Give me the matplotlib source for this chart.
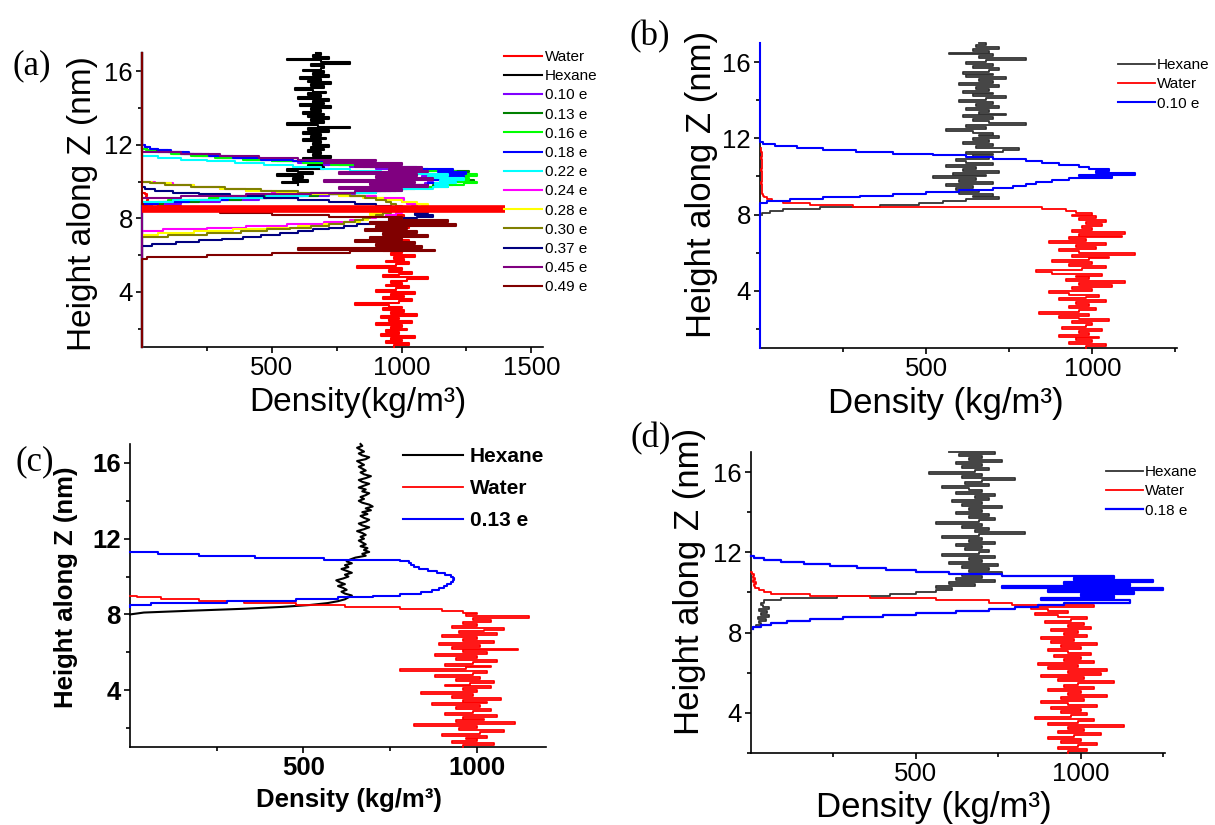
import numpy as np
import matplotlib
matplotlib.use("Agg")
import matplotlib.pyplot as plt

plt.rcParams['font.family'] = ['Liberation Sans', 'DejaVu Sans']

W, H = 1215, 825
fig = plt.figure(figsize=(W / 100, H / 100), dpi=100)


def fx(px):
    return px / W


def fy(py):
    return 1 - py / H


def rect(l, t, r, b):
    return [l / W, 1 - b / H, (r - l) / W, (b - t) / H]


# ---------------- data ----------------
# height bins (nm) of the density profiles
Z = np.round(np.arange(1.0, 17.0 + 1e-9, 0.1), 1)

# ---- panel (a) ----
a_labels = ['Water', 'Hexane', '0.10 e', '0.13 e', '0.16 e', '0.18 e', '0.22 e',
            '0.24 e', '0.28 e', '0.30 e', '0.37 e', '0.45 e', '0.49 e']
a_colors = ['#ff0000', '#000000', '#8000ff', '#008000', '#00ff00', '#0000ff', '#00ffff',
            '#ff00ff', '#ffff00', '#808000', '#000080', '#800080', '#800000']

water_a_start = 1.0
water_a = [970, 1030, 940, 1000, 960, 1050, 920, 990, 940, 1020,
           960, 1000, 900, 1040, 950, 990, 920, 1060, 960, 1010,
           930, 1000, 950, 820, 990, 1040, 930, 1010, 960, 1050,
           900, 980, 1030, 940, 1000, 960, 1020, 1100, 930, 990,
           1040, 950, 1000, 830, 980, 1030, 940, 1010, 970, 1050,
           960, 1000, 930, 1020, 950, 990, 940, 1030, 960, 1000,
           940, 1020, 970, 1000, 950, 1030, 980, 1010, 960, 1000,
           980, 1010, 950, 900, 700, 400, 150, 60, 30, 20,
           25, 15, 20, 10, 0]
hexane_a_start = 9.8
hexane_a = [600, 540, 640, 580, 620, 520, 660, 600, 560, 700,
            640, 720, 660, 700, 620, 730, 660, 690, 640, 700,
            650, 720, 660, 690, 620, 710, 650, 690, 620, 720,
            640, 800, 680, 560, 700, 650, 720, 640, 700, 620,
            690, 650, 730, 610, 700, 660, 720, 600, 690, 640,
            710, 660, 590, 700, 650, 730, 640, 690, 610, 720,
            660, 700, 620, 690, 700, 650, 800, 690, 560, 720,
            660, 690, 670]
ion_starts = [8.6, 8.7, 8.8, 8.7, 8.8, 7.2, 7.0, 6.9, 6.4, 9.0, 5.7]
ion_010 = [0, 40, 150, 300, 450, 600, 720, 820, 900, 960,
           1010, 1050, 1090, 1120, 1100, 1150, 1080, 1130, 1060, 1090,
           980, 900, 800, 700, 600, 500, 400, 310, 230, 160,
           100, 60, 30, 10, 0]
ion_013 = [0, 80, 220, 380, 540, 680, 800, 900, 980, 1050,
           1120, 1200, 1160, 1280, 1180, 1250, 1150, 1220, 1260, 1100,
           1000, 880, 760, 640, 520, 400, 290, 200, 120, 60,
           20, 0]
ion_016 = [0, 100, 260, 420, 580, 720, 840, 940, 1020, 1180,
           1240, 1290, 1200, 1260, 1170, 1290, 1150, 1210, 1080, 960,
           850, 730, 620, 500, 390, 280, 190, 110, 50, 15,
           0]
ion_018 = [0, 60, 180, 330, 480, 620, 740, 840, 920, 990,
           1050, 1100, 1150, 1210, 1120, 1240, 1160, 1250, 1140, 1200,
           1060, 940, 820, 700, 580, 460, 350, 260, 180, 110,
           60, 30, 10, 0]
ion_022 = [0, 120, 300, 480, 640, 780, 900, 1000, 1120, 1180,
           1130, 1210, 1150, 1240, 1100, 1180, 1050, 920, 800, 690,
           580, 470, 360, 250, 150, 60, 0]
ion_024 = [0, 80, 250, 400, 560, 700, 800, 860, 900, 940,
           980, 1000, 1020, 1050, 1040, 1060, 1020, 1000, 1010, 900,
           760, 620, 500, 400, 300, 200, 120, 50, 0]
ion_028 = [0, 60, 200, 350, 480, 600, 700, 780, 840, 870,
           850, 900, 880, 950, 1000, 1050, 1080, 1100, 1060, 1000,
           930, 850, 760, 640, 520, 400, 300, 200, 110, 40,
           0]
ion_030 = [0, 100, 250, 380, 480, 570, 650, 720, 780, 820,
           850, 880, 900, 930, 960, 990, 1010, 1000, 980, 960,
           940, 900, 860, 800, 720, 600, 460, 320, 190, 90,
           30, 0]
ion_037 = [0, 40, 130, 220, 310, 390, 460, 530, 600, 660,
           720, 780, 830, 880, 950, 1010, 1060, 1120, 1050, 1100,
           1040, 1000, 960, 900, 820, 720, 600, 470, 340, 220,
           120, 50, 10, 0]
ion_045 = [0, 150, 400, 650, 820, 1000, 760, 1100, 880, 1050,
           700, 1120, 900, 1060, 760, 1100, 950, 1080, 820, 1000,
           700, 900, 600, 450, 300, 150, 0]
ion_049 = [0, 20, 250, 500, 800, 1130, 600, 1080, 900, 1050,
           820, 1000, 880, 1100, 930, 1060, 860, 1020, 900, 1210,
           880, 1180, 950, 1000, 720, 500, 300, 150, 60, 20,
           5, 0]
ions_a = [ion_010, ion_013, ion_016, ion_018, ion_022, ion_024,
          ion_028, ion_030, ion_037, ion_045, ion_049]
# thick red bar at the interface
bar_density = [0, 1400]
bar_height = [8.5, 8.5]

# ---- panel (b) ----
water_b_start = 1.0
water_b = [980, 1040, 930, 1000, 950, 1020, 900, 990, 960, 1030,
           910, 980, 1000, 940, 1050, 960, 900, 990, 840, 960,
           1010, 930, 990, 950, 1040, 900, 980, 1020, 930, 870,
           1000, 940, 1060, 960, 1100, 920, 990, 950, 1030, 880,
           830, 970, 1040, 930, 1000, 880, 990, 1050, 940, 1130,
           960, 900, 1010, 950, 1040, 870, 980, 930, 1090, 960,
           1100, 940, 1000, 970, 1030, 980, 1040, 960, 1010, 940,
           1000, 950, 920, 850, 280, 150, 70, 35, 20, 12,
           8, 6, 5, 7, 5, 6, 4, 6, 5, 7,
           5, 6, 5, 4, 6, 5, 7, 5, 6, 4,
           5, 6, 5, 4, 3, 2]
hexane_b_start = 8.0
hexane_b = [5, 30, 70, 180, 360, 480, 550, 620, 720, 640,
            700, 600, 660, 590, 640, 560, 700, 600, 650, 520,
            680, 580, 720, 610, 650, 560, 700, 620, 590, 690,
            640, 700, 620, 730, 780, 650, 700, 610, 690, 640,
            720, 660, 700, 640, 560, 680, 620, 800, 690, 640,
            700, 610, 740, 660, 690, 620, 720, 650, 700, 600,
            680, 740, 640, 700, 610, 690, 650, 720, 600, 700,
            660, 740, 620, 700, 610, 690, 720, 640, 700, 620,
            680, 800, 660, 700, 570, 690, 640, 720, 650, 680,
            660]
ion_b_start = 8.6
ion_b = [20, 90, 190, 300, 400, 500, 600, 700, 760, 800,
         830, 880, 930, 1060, 960, 1130, 1010, 1050, 990, 960,
         900, 850, 800, 700, 620, 520, 400, 290, 190, 110,
         45, 10]

# ---- panel (c) ----
hexane_c_start = 8.0
hexane_c = [0, 40, 180, 330, 440, 520, 570, 600, 620, 630,
            640, 620, 610, 625, 615, 600, 620, 605, 595, 615,
            630, 620, 640, 625, 610, 630, 620, 640, 625, 635,
            650, 680, 670, 690, 675, 685, 665, 680, 670, 660,
            675, 665, 680, 670, 655, 675, 690, 670, 660, 680,
            690, 675, 665, 685, 670, 695, 680, 700, 690, 670,
            660, 675, 665, 680, 690, 670, 680, 660, 675, 690,
            670, 660, 680, 695, 675, 665, 680, 670, 660, 675,
            665, 655, 680, 690, 670, 660, 675, 665, 655, 670,
            665]
water_c_start = 1.0
water_c = [960, 1050, 930, 1000, 970, 1030, 900, 1010, 1080, 950,
           1000, 820, 1110, 940, 1020, 960, 1060, 910, 990, 1040,
           940, 1010, 870, 1030, 960, 1070, 930, 990, 840, 1000,
           960, 1040, 910, 980, 1050, 940, 1010, 880, 990, 1030,
           780, 970, 1040, 910, 990, 1060, 940, 1000, 880, 1030,
           960, 1120, 930, 1010, 890, 1050, 960, 1000, 900, 1060,
           950, 1020, 1080, 930, 1000, 960, 1040, 990, 1150, 970,
           1000, 960, 900, 780, 620, 480, 330, 200, 90, 20,
           0]
ion_c_start = 8.4
ion_c = [0, 60, 280, 480, 600, 700, 780, 840, 870, 890,
         905, 915, 925, 932, 935, 932, 925, 910, 885, 860,
         835, 820, 812, 805, 780, 560, 360, 200, 80, 0]

# ---- panel (d) ----
hexane_d_start = 8.2
hexane_d = [5, 15, 30, 25, 45, 20, 55, 30, 50, 25,
            55, 35, 30, 40, 90, 260, 420, 500, 560, 610,
            560, 680, 600, 740, 620, 700, 640, 760, 660, 720,
            640, 750, 600, 700, 660, 740, 580, 690, 720, 650,
            700, 620, 740, 660, 700, 580, 690, 830, 680, 720,
            640, 700, 560, 690, 740, 660, 720, 620, 700, 660,
            760, 640, 700, 610, 720, 680, 740, 620, 700, 660,
            580, 720, 650, 700, 800, 640, 700, 540, 680, 720,
            640, 700, 620, 760, 660, 700, 630, 740, 600]
water_d_start = 2.0
water_d = [960, 1020, 930, 990, 1050, 940, 1000, 900, 980, 1060,
           930, 1010, 960, 1130, 900, 990, 1040, 860, 970, 1020,
           940, 1000, 910, 1050, 960, 880, 1010, 940, 1080, 960,
           1000, 900, 1040, 950, 990, 1100, 930, 1010, 880, 1060,
           960, 1080, 900, 990, 870, 1040, 950, 1000, 920, 1030,
           960, 900, 1000, 940, 1050, 910, 980, 880, 1020, 950,
           990, 910, 1030, 960, 1010, 890, 970, 1020, 930, 860,
           960, 900, 850, 1040, 790, 720, 560, 360, 180, 60,
           40, 25, 12, 8, 15, 6, 12, 5, 8, 3,
           0]
ion_d_start = 8.2
ion_d = [5, 30, 60, 110, 180, 280, 400, 500, 620, 720,
         800, 870, 950, 1150, 880, 1100, 1000, 1160, 900, 1250,
         760, 1150, 950, 1220, 980, 1100, 760, 600, 500, 410,
         320, 240, 160, 90, 40, 8, 0]


# ---------------- helpers ----------------
def seg(z0, vals):
    i = int(round((z0 - Z[0]) / 0.1))
    return np.asarray(vals, float), Z[i:i + len(vals)]


def padded(z0, vals):
    i = int(round((z0 - Z[0]) / 0.1))
    out = np.zeros(len(Z))
    out[i:i + len(vals)] = vals
    return out, Z


def draw(ax, xz, color, label, lw=1.3, steps=True, zo=3):
    x, zz = xz
    ax.plot(x, zz, color=color, lw=lw, label=label,
            drawstyle='steps-pre' if steps else 'default',
            clip_on=False, zorder=zo)


def style(ax, xlim, ylim, xmajor, xminor, yminor, fs, bold=False):
    ax.set_xlim(xlim)
    ax.set_ylim(ylim)
    fw = 'bold' if bold else 'normal'
    ax.set_xticks(xmajor, [str(v) for v in xmajor], fontweight=fw)
    ax.set_xticks(xminor, minor=True)
    ax.set_yticks([4, 8, 12, 16], ['4', '8', '12', '16'], fontweight=fw)
    ax.set_yticks(yminor, minor=True)
    ax.spines[['top', 'right']].set_visible(False)
    for s in ('left', 'bottom'):
        ax.spines[s].set_linewidth(1.2)
    ax.tick_params(which='both', direction='out', width=1.2)
    ax.tick_params(which='major', length=4.5, labelsize=fs)
    ax.tick_params(which='minor', length=3.2)
    ax.tick_params(axis='x', which='major', pad=2)
    ax.tick_params(axis='y', which='major', pad=2)


def legend(ax, left_px, top_px, fs, hl, htp, ls, bold=False):
    ax.legend(loc='upper left', bbox_to_anchor=(fx(left_px), fy(top_px)),
              bbox_transform=fig.transFigure, frameon=False, borderpad=0,
              borderaxespad=0, handlelength=hl, handletextpad=htp,
              labelspacing=ls,
              prop={'size': fs, 'weight': 'bold' if bold else 'normal'})


def label_text(x, y, s, fs, rot=0, bold=False):
    fig.text(fx(x), fy(y), s, fontsize=fs, rotation=rot, ha='center', va='center',
             fontweight='bold' if bold else 'normal')


# ---------------- panel (a) ----------------
ax = fig.add_axes(rect(142, 53, 543, 347))
draw(ax, seg(water_a_start, water_a), a_colors[0], a_labels[0], lw=1.5)
draw(ax, seg(hexane_a_start, hexane_a), a_colors[1], a_labels[1], lw=1.5)
for k, vals in enumerate(ions_a):
    draw(ax, padded(ion_starts[k], vals), a_colors[k + 2], a_labels[k + 2], lw=1.5)
ax.plot(bar_density, bar_height, color='#ff0000', lw=5.5, solid_capstyle='butt',
        zorder=4, clip_on=False)
style(ax, (0, 1545), (1, 17), [500, 1000, 1500], [250, 750, 1250], [2, 6, 10, 14], 18.5)
legend(ax, 504, 50, 11, 2.5, 0.2, 0.34)
label_text(82, 204, 'Height along Z (nm)', 24, rot=90)
label_text(358, 402, 'Density(kg/m³)', 24)
fig.text(fx(32), fy(66), '(a)', family='Liberation Serif', fontsize=25,
         ha='center', va='center')

# ---------------- panel (b) ----------------
ax = fig.add_axes(rect(760, 43, 1177, 348))
draw(ax, seg(hexane_b_start, hexane_b), '#333333', 'Hexane', lw=1.3)
draw(ax, seg(water_b_start, water_b), '#ff0000', 'Water', lw=1.3)
draw(ax, padded(ion_b_start, ion_b), '#0000ff', '0.10 e', lw=1.5)
style(ax, (0, 1255), (1, 17), [500, 1000], [250, 750, 1250], [2, 6, 10, 14], 18.5)
legend(ax, 1118, 58, 11, 2.4, 0.15, 0.35)
label_text(701, 184, 'Height along Z (nm)', 25, rot=90)
label_text(946, 403, 'Density (kg/m³)', 25)
fig.text(fx(650), fy(37), '(b)', family='Liberation Serif', fontsize=25,
         ha='center', va='center')

# ---------------- panel (c) ----------------
ax = fig.add_axes(rect(130, 444, 546, 747))
draw(ax, seg(hexane_c_start, hexane_c), '#000000', 'Hexane', lw=1.5, steps=False)
draw(ax, seg(water_c_start, water_c), '#ff0000', 'Water', lw=1.3)
draw(ax, seg(ion_c_start, ion_c), '#0000ff', '0.13 e', lw=1.5)
style(ax, (0, 1200), (1, 17), [500, 1000], [250, 750], [2, 6, 10, 14], 18.5, bold=True)
legend(ax, 403, 447, 15, 2.9, 0.3, 0.63, bold=True)
label_text(66, 587, 'Height along Z (nm)', 18.5, rot=90, bold=True)
label_text(349, 800, 'Density (kg/m³)', 18.5, bold=True)
fig.text(fx(35), fy(462), '(c)', family='Liberation Serif', fontsize=25,
         ha='center', va='center')

# ---------------- panel (d) ----------------
ax = fig.add_axes(rect(751, 452, 1165, 753))
draw(ax, seg(hexane_d_start, hexane_d), '#333333', 'Hexane', lw=1.3)
draw(ax, seg(water_d_start, water_d), '#ff0000', 'Water', lw=1.3)
draw(ax, seg(ion_d_start, ion_d), '#0000ff', '0.18 e', lw=1.6)
style(ax, (0, 1255), (2, 17), [500, 1000], [250, 750, 1250], [2, 6, 10, 14], 18.5)
legend(ax, 1106, 465, 11, 2.4, 0.15, 0.35)
label_text(690, 581, 'Height along Z (nm)', 25, rot=90)
label_text(934, 808, 'Density (kg/m³)', 25)
fig.text(fx(651), fy(439), '(d)', family='Liberation Serif', fontsize=25,
         ha='center', va='center')

fig.savefig('out.png', dpi=100)
